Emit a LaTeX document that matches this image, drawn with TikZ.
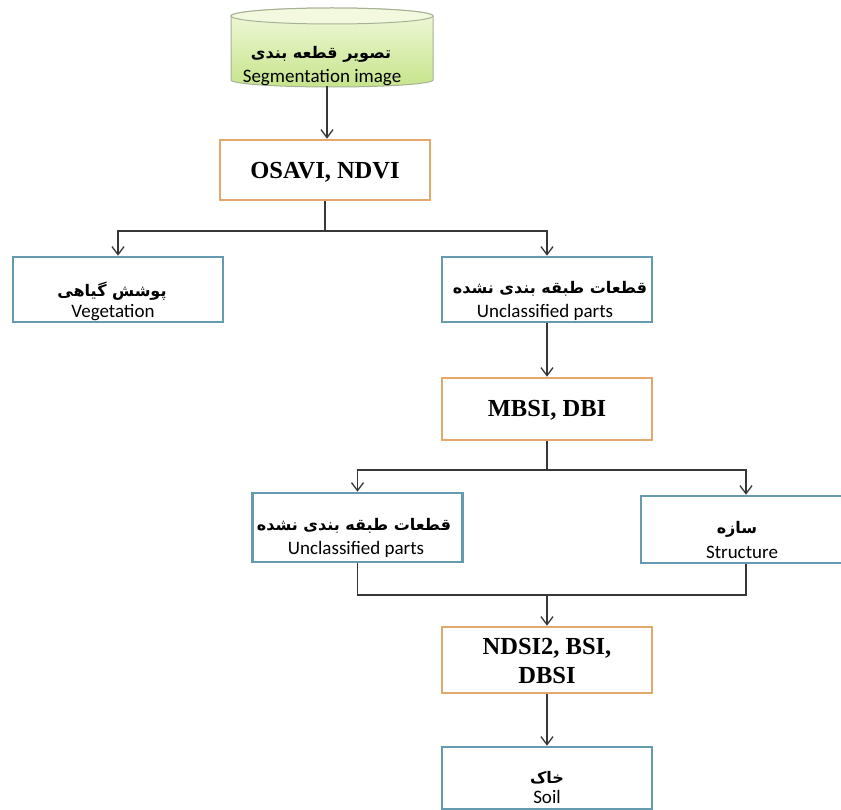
\documentclass[tikz,border=0pt]{standalone}
\usepackage{fontspec}
\setmainfont{Liberation Serif}
\newfontfamily\fafont[Script=Arabic]{DejaVu Sans}
\newfontfamily\enfont{Carlito}
\TeXXeTstate=1
\usetikzlibrary{arrows.meta}
\definecolor{orangeb}{RGB}{228,168,108}
\definecolor{blueb}{RGB}{100,155,175}
\definecolor{linec}{RGB}{55,55,55}
\definecolor{cyltop}{RGB}{242,249,222}
\definecolor{cylbot}{RGB}{198,228,138}
\definecolor{cylline}{RGB}{165,178,150}
\begin{document}
\begin{tikzpicture}[x=1pt,y=-1pt,
  obox/.style={draw=orangeb, line width=2.6pt, fill=white, minimum width=210pt, inner sep=0pt},
  bbox/.style={draw=blueb, line width=2.6pt, fill=white, minimum width=210pt, inner sep=0pt},
  fa/.style={font=\fafont\bfseries\fontsize{16}{19}\selectfont, inner sep=0pt},
  en/.style={font=\enfont\fontsize{19}{22}\selectfont, inner sep=0pt},
  idx/.style={font=\bfseries\fontsize{24.5}{28}\selectfont, align=center, inner sep=0pt},
  conn/.style={draw=linec, line width=1.3pt},
  arr/.style={conn, -{Straight Barb[length=8pt,width=12pt,line width=1.3pt]}}]
\useasboundingbox (0,0) rectangle (841,810);
\clip (0,0) rectangle (841,810);
\fill[white] (0,0) rectangle (841,810);
% cylinder
\path[top color=cyltop, bottom color=cylbot, draw=cylline, line width=1pt]
  (231,16) -- (231,80) arc[start angle=180,end angle=360,x radius=101pt,y radius=7pt]
  -- (433,16) arc[start angle=0,end angle=180,x radius=101pt,y radius=8pt] -- cycle;
\draw[cylline, line width=1pt, fill=cyltop] (332,16) ellipse [x radius=101pt, y radius=8pt];
\node[fa] (cylfa) at (321,54) {\beginR تصویر قطعه بندی\endR};
\node[en] (cylen) at (322,78) {Segmentation image};
\coordinate (cylb) at (327,86);
% boxes
\node[obox, minimum height=60pt] (osavi) at (325,170) {};
\node[idx] (osavit) at (325,172) {OSAVI, NDVI};
\node[bbox, minimum height=65pt] (veg) at (118,289.5) {};
\node[fa] (vegfa) at (112,291) {\beginR پوشش گیاهی\endR};
\node[en] (vegen) at (113,313) {Vegetation};
\node[bbox, minimum height=65pt] (unc1) at (547,289.5) {};
\node[fa] (unc1fa) at (550,289) {\beginR قطعات طبقه بندی نشده\endR};
\node[en] (unc1en) at (545,312) {Unclassified parts};
\node[obox, minimum height=62pt] (mbsi) at (547,409) {};
\node[idx] (mbsit) at (547,410) {MBSI, DBI};
\node[bbox, minimum height=69pt] (unc2) at (357.5,527.5) {};
\node[fa] (unc2fa) at (354,526) {\beginR قطعات طبقه بندی نشده\endR};
\node[en] (unc2en) at (356,549) {Unclassified parts};
\node[bbox, minimum height=67pt] (struct) at (746,529.5) {};
\node[fa] (structfa) at (737,529) {\beginR سازه\endR};
\node[en] (structen) at (742,552) {Structure};
\node[obox, minimum height=66pt] (ndsi) at (547,660) {};
\node[idx] (ndsit) at (547,661.5) {NDSI2, BSI,\\[1pt] DBSI};
\node[bbox, minimum height=62pt] (soil) at (547,778) {};
\node[fa] (soilfa) at (547,778) {\beginR خاک\endR};
\node[en] (soilen) at (547,797) {Soil};
% connectors
\coordinate (j1) at (325,231);
\coordinate (j2) at (547,470);
\coordinate (j3) at (547,595);
\draw[arr] (cylb) -- (cylb |- osavi.north);
\draw[conn] (osavi.south) -- (j1);
\draw[arr] (j1) -| (veg.north);
\draw[arr] (j1) -| (unc1.north);
\draw[arr] (unc1.south) -- (mbsi.north);
\draw[conn] (mbsi.south) -- (j2);
\draw[arr] (j2) -| (unc2.north);
\draw[arr] (j2) -| (struct.north);
\draw[conn] (unc2.south) |- (j3);
\draw[conn] (struct.south) |- (j3);
\draw[arr] (j3) -- (ndsi.north);
\draw[arr] (ndsi.south) -- (soil.north);
\end{tikzpicture}
\end{document}
